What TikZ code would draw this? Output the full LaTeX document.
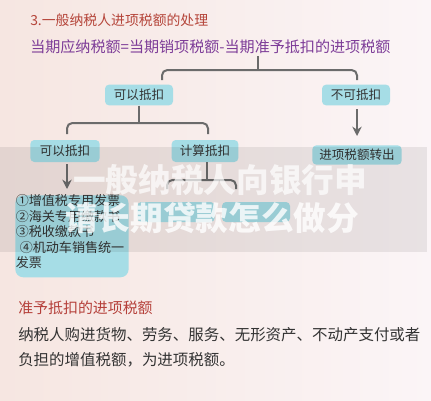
\documentclass[tikz,border=0pt]{standalone}
\usepackage{fontspec}
\setmainfont{Noto Sans CJK SC}
\usetikzlibrary{arrows.meta}
\definecolor{titlec}{HTML}{B5453A}
\definecolor{formc}{HTML}{7D3C98}
\definecolor{subc}{HTML}{B5403A}
\definecolor{bodyc}{HTML}{333333}
\definecolor{connc}{HTML}{6B6B6B}
\definecolor{boxc}{HTML}{A6DDE6}
\definecolor{bgl}{HTML}{F6E6E1}
\definecolor{bgr}{HTML}{FBF5F7}
\newcommand\setfs[2]{\fontsize{#1}{#2}\selectfont}
\begin{document}
\begin{tikzpicture}[x=0.75pt,y=-0.75pt,
  lbl/.style={fill=boxc, rounded corners=3pt, inner sep=0pt, text=bodyc, font=\setfs{9.4}{10}, minimum height=15.5pt},
  conn/.style={draw=connc, line width=1.5pt},
  arr/.style={conn, -{Stealth[length=7pt,width=7pt]}},
  txt/.style={anchor=west, inner sep=0pt}]
\useasboundingbox (0,0) rectangle (431,400);
\shade[left color=bgl, right color=bgr] (0,0) rectangle (431,400);
% texts
\node[txt, text=titlec, font=\setfs{10.4}{12}] (title) at (30,20) {3.一般纳税人进项税额的处理};
\node[txt, text=formc, font=\setfs{11.3}{13}] (formula) at (30,47) {当期应纳税额=当期销项税额-当期准予抵扣的进项税额};
% boxes
\node[lbl, minimum width=51pt] (a1) at (139,95) {可以抵扣};
\node[lbl, minimum width=51pt] (a2) at (356,95) {不可抵扣};
\node[lbl, minimum width=67pt, minimum height=14.5pt] (a3) at (357,155) {进项税额转出};
\node[lbl, minimum width=52pt, minimum height=16.5pt] (b1) at (65,151) {可以抵扣};
\node[lbl, minimum width=50pt, minimum height=16.5pt] (b2) at (205,151) {计算抵扣};
\node[fill=boxc, rounded corners=6pt, minimum width=85pt, minimum height=61.5pt, inner sep=0pt, anchor=north west] (c1) at (15,195) {};
\node[anchor=north west, align=left, inner sep=0pt, text=bodyc, font=\setfs{9.8}{11.6}] (c1t) at (15.5,194.5) {①增值税专用发票\\②海关专用缴款书\\③税收缴款书\\\hspace{3pt}④机动车销售统一\\发票};
\node[lbl, minimum width=58pt, minimum height=15pt] (c2) at (176,212) {};
\node[lbl, minimum width=51pt, minimum height=15pt] (c3) at (256,212) {};
% connectors
\coordinate (t0) at (258,56);
\coordinate (t1) at (258,70);
\coordinate (tl) at (162,80);
\coordinate (tr) at (357,80);
\draw[conn] (t0) -- (t1);
\draw[conn, rounded corners=4pt] (tl) |- (t1) -| (tr);
\coordinate (a2s) at (357,109);
\coordinate (a2e) at (357,136);
\draw[arr] (a2s) -- (a2e);
\coordinate (u1) at (a1.south |- 0,123);
\draw[conn] (a1.south) -- (u1);
\coordinate (ul) at (67,134);
\coordinate (ur) at (208,134);
\draw[conn, rounded corners=4pt] (ul) |- (u1) -| (ur);
\coordinate (b1s) at (67,164);
\coordinate (b1e) at (67,189);
\draw[arr] (b1s) -- (b1e);
\coordinate (v1) at (207,180);
\draw[conn] (b2.south -| v1) -- (v1);
\coordinate (vl) at (167,189);
\coordinate (vr) at (236,189);
\draw[conn, rounded corners=4pt] (vl) |- (v1) -| (vr);
% watermark band
\fill[black, opacity=0.075] (0,147) rectangle (427,252);
\node[txt, text=white, opacity=0.7, font=\bfseries\setfs{24.5}{26}] (w1) at (73,180) {一般纳税人向银行申};
\node[txt, text=white, opacity=0.8, font=\bfseries\setfs{24.5}{26}] (w2) at (65,218) {请长期贷款怎么做分};
% lower text
\node[txt, text=subc, font=\setfs{11.2}{13}] (sub) at (18,308) {准予抵扣的进项税额};
\node[txt, text=bodyc, font=\setfs{11.6}{13}] (body1) at (18,335) {纳税人购进货物、劳务、服务、无形资产、不动产支付或者};
\node[txt, text=bodyc, font=\setfs{11.6}{13}] (body2) at (18,360) {负担的增值税额，为进项税额。};
\end{tikzpicture}
\end{document}
